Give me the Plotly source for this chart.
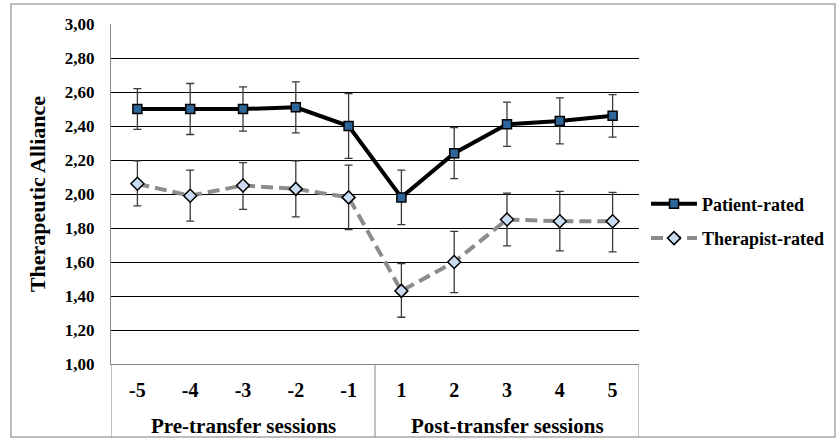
import plotly.graph_objects as go

sessions = ["-5", "-4", "-3", "-2", "-1", "1", "2", "3", "4", "5"]
group_labels = ["Pre-transfer sessions", "Post-transfer sessions"]
group_sizes = [5, 5]

patient = [2.50, 2.50, 2.50, 2.51, 2.40, 1.98, 2.24, 2.41, 2.43, 2.46]
patient_up = [0.12, 0.15, 0.13, 0.15, 0.19, 0.16, 0.15, 0.13, 0.135, 0.125]
patient_dn = [0.12, 0.15, 0.13, 0.15, 0.19, 0.16, 0.15, 0.13, 0.135, 0.125]

therapist = [2.06, 1.99, 2.05, 2.03, 1.98, 1.43, 1.60, 1.85, 1.84, 1.84]
therapist_up = [0.135, 0.15, 0.135, 0.165, 0.19, 0.16, 0.18, 0.155, 0.175, 0.17]
therapist_dn = [0.13, 0.15, 0.14, 0.165, 0.19, 0.155, 0.18, 0.155, 0.175, 0.18]

font_family = "Liberation Serif, Times New Roman, serif"

fig = go.Figure()
fig.add_trace(go.Scatter(
    x=sessions, y=patient, name="Patient-rated",
    mode="lines+markers", legendgroup="p",
    line=dict(color="black", width=4),
    marker=dict(symbol="square", size=9, color="#2F6699",
                line=dict(color="black", width=1.5)),
    error_y=dict(type="data", array=patient_up, arrayminus=patient_dn,
                 color="#3a3a3a", thickness=1.3, width=4),
))
fig.add_trace(go.Scatter(
    x=sessions, y=therapist, name="Therapist-rated",
    mode="lines+markers", legendgroup="t",
    line=dict(color="#8C8C8C", width=4, dash="12px,6px"),
    marker=dict(symbol="diamond", size=10, color="#C9DCF2",
                line=dict(color="black", width=1.5)),
    error_y=dict(type="data", array=therapist_up, arrayminus=therapist_dn,
                 color="#3a3a3a", thickness=1.3, width=4),
))

# outer frame
fig.add_shape(type="rect", xref="paper", yref="paper",
              x0=(11 - 111) / 528, x1=(835 - 111) / 528,
              y0=(364 - 437) / 340, y1=(364 - 4) / 340,
              line=dict(color="#A6A6A6", width=1.5), layer="below")

# group dividers and labels below the category axis
y_bottom = (364 - 437) / 340
start = 0
edges = [-0.5]
for label, size in zip(group_labels, group_sizes):
    center = start + (size - 1) / 2
    fig.add_annotation(x=center, xref="x", y=(364 - 425.5) / 340, yref="paper",
                       text=label, showarrow=False, yanchor="middle",
                       font=dict(family=font_family, size=21, color="black",
                                 weight="bold"))
    start += size
    edges.append(start - 0.5)
for e in edges:
    fig.add_shape(type="line", xref="x", yref="paper", x0=e, x1=e,
                  y0=0, y1=y_bottom, line=dict(color="#868686", width=1))

fig.update_layout(
    width=836, height=439,
    margin=dict(l=111, r=197, t=24, b=75),
    paper_bgcolor="white", plot_bgcolor="white",
    separators=",.",
    font=dict(family=font_family, color="black", size=16),
    showlegend=True,
    legend=dict(xref="container", yref="container",
                x=646 / 836, xanchor="left", y=1 - 221 / 439,
                yanchor="middle", traceorder="grouped", tracegroupgap=8,
                itemwidth=46,
                font=dict(family=font_family, size=18, color="black",
                          weight="bold"),
                bgcolor="rgba(0,0,0,0)"),
    xaxis=dict(
        type="category", range=[-0.5, 9.5], automargin=False,
        showgrid=False, showline=True, linecolor="#868686", linewidth=1,
        ticks="", ticklabelstandoff=8,
        tickfont=dict(family=font_family, size=20, color="black",
                      weight="bold"),
    ),
    yaxis=dict(
        range=[1, 3], dtick=0.2, tick0=1, tickformat=".2f", automargin=False,
        showgrid=True, gridcolor="black", gridwidth=1,
        showline=True, linecolor="#868686", linewidth=1,
        zeroline=False, ticks="", ticklabelstandoff=12,
        tickfont=dict(family=font_family, size=17, color="black",
                      weight="bold"),
        title=dict(text="Therapeutic Alliance", standoff=13,
                   font=dict(family=font_family, size=22, color="black",
                             weight="bold")),
    ),
)

fig.write_html("out.html",
               config={"displayModeBar": False},
               post_script="document.body.style.margin='0';")
